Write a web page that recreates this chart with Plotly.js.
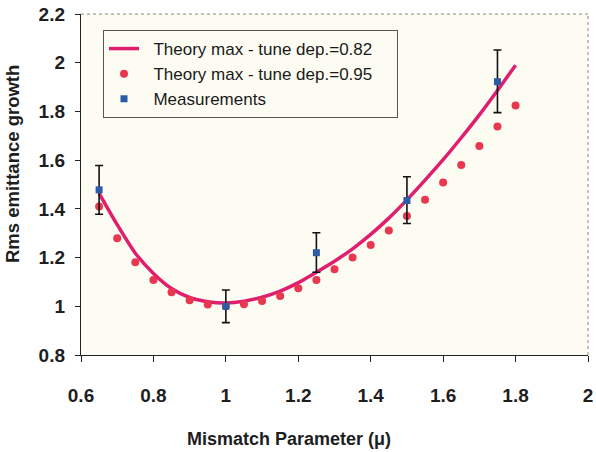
<!DOCTYPE html>
<html>
<head>
<meta charset="utf-8">
<script src="https://cdn.plot.ly/plotly-3.0.1.min.js"></script>
<style>
html,body{margin:0;padding:0;background:#fff;}
#chart{width:596px;height:452px;}
</style>
</head>
<body>
<div id="chart"></div>
<script>
// Theory max - tune dep.=0.82 (solid line)
var lineX = [0.65,0.70,0.75,0.80,0.85,0.90,0.95,1.00,1.05,1.10,1.15,1.20,1.25,1.30,1.35,1.40,1.45,1.50,1.55,1.60,1.65,1.70,1.75,1.80];
var lineY = [1.464,1.335,1.218,1.135,1.073,1.036,1.019,1.014,1.021,1.037,1.062,1.097,1.140,1.185,1.236,1.295,1.362,1.437,1.518,1.602,1.692,1.786,1.886,1.99];

// Theory max - tune dep.=0.95 (dots)
var dotX = [0.65,0.70,0.75,0.80,0.85,0.90,0.95,1.00,1.05,1.10,1.15,1.20,1.25,1.30,1.35,1.40,1.45,1.50,1.55,1.60,1.65,1.70,1.75,1.80];
var dotY = [1.41,1.279,1.181,1.108,1.058,1.025,1.007,1.0,1.008,1.022,1.042,1.074,1.108,1.152,1.200,1.252,1.311,1.371,1.437,1.508,1.580,1.658,1.738,1.824];

// Measurements with error bars
var measX = [0.65,1.00,1.25,1.50,1.75];
var measY = [1.478,1.0,1.22,1.434,1.922];
var errPlus = [0.10,0.067,0.082,0.098,0.13];
var errMinus = [0.10,0.067,0.08,0.094,0.127];

var xTicks = [0.6,0.8,1,1.2,1.4,1.6,1.8,2];
var yTicks = [0.8,1,1.2,1.4,1.6,1.8,2,2.2];

var names = ['Theory max - tune dep.=0.82','Theory max - tune dep.=0.95','Measurements'];
var pad = function(s){ return '\u00a0\u00a0' + s + '\u00a0\u00a0\u00a0\u00a0'; };

var traces = [
  {x: lineX, y: lineY, type:'scatter', mode:'lines', name:pad(names[0]),
   line:{color:'#e01e6e', width:3.5, shape:'spline', smoothing:0.6}},
  {x: dotX, y: dotY, type:'scatter', mode:'markers', name:pad(names[1]),
   marker:{color:'#e8374f', size:8, symbol:'circle'}},
  {x: measX, y: measY, type:'scatter', mode:'markers', name:pad(names[2]),
   marker:{color:'#2b5ca8', size:7, symbol:'square'},
   error_y:{type:'data', symmetric:false, array:errPlus, arrayminus:errMinus,
            color:'#111', thickness:1.6, width:4}}
];

var tickFont = {family:'Liberation Sans, Arial, sans-serif', size:19, color:'#1e1e1e', weight:'bold'};

var layout = {
  width:596, height:452,
  margin:{l:81, r:8, t:14, b:97},
  paper_bgcolor:'#ffffff',
  plot_bgcolor:'#fdfcf3',
  showlegend:true,
  legend:{x:0.0434, y:0.953, xanchor:'left', yanchor:'top',
          bgcolor:'#fdfcf3', bordercolor:'#555', borderwidth:1,
          font:{family:'Liberation Sans, Arial, sans-serif', size:17, color:'#1a1a1a'},
          tracegroupgap:0},
  xaxis:{range:[0.6,2], tickvals:xTicks, ticktext:xTicks.map(String),
         showgrid:false, zeroline:false, showline:true, linecolor:'#222', linewidth:1.2,
         ticks:'outside', ticklen:6, tickcolor:'#222', tickwidth:1,
         ticklabelstandoff:17, tickfont:tickFont},
  yaxis:{range:[0.8,2.2], tickvals:yTicks, ticktext:yTicks.map(String),
         showgrid:false, zeroline:false, showline:true, linecolor:'#222', linewidth:1.2,
         ticks:'outside', ticklen:5, tickcolor:'#222', tickwidth:1,
         ticklabelstandoff:6, tickfont:tickFont},
  shapes:[
    {type:'line', xref:'paper', yref:'paper', x0:0, x1:1, y0:1, y1:1,
     line:{color:'#888', width:1, dash:'dot'}},
    {type:'line', xref:'paper', yref:'paper', x0:1, x1:1, y0:0, y1:1,
     line:{color:'#888', width:1, dash:'dot'}}
  ],
  annotations:[
    {text:'Mismatch Parameter (\u03bc)', xref:'paper', yref:'paper', x:0.41, y:-0.246,
     xanchor:'center', yanchor:'middle', showarrow:false,
     font:{family:'Liberation Sans, Arial, sans-serif', size:18, color:'#1e1e1e', weight:'bold'}},
    {text:'Rms emittance growth', xref:'paper', yref:'paper', x:-0.136, y:0.56,
     xanchor:'center', yanchor:'middle', showarrow:false, textangle:-90,
     font:{family:'Liberation Sans, Arial, sans-serif', size:18.5, color:'#1e1e1e', weight:'bold'}}
  ]
};

Plotly.newPlot('chart', traces, layout, {displayModeBar:false, staticPlot:true});
</script>
</body>
</html>
